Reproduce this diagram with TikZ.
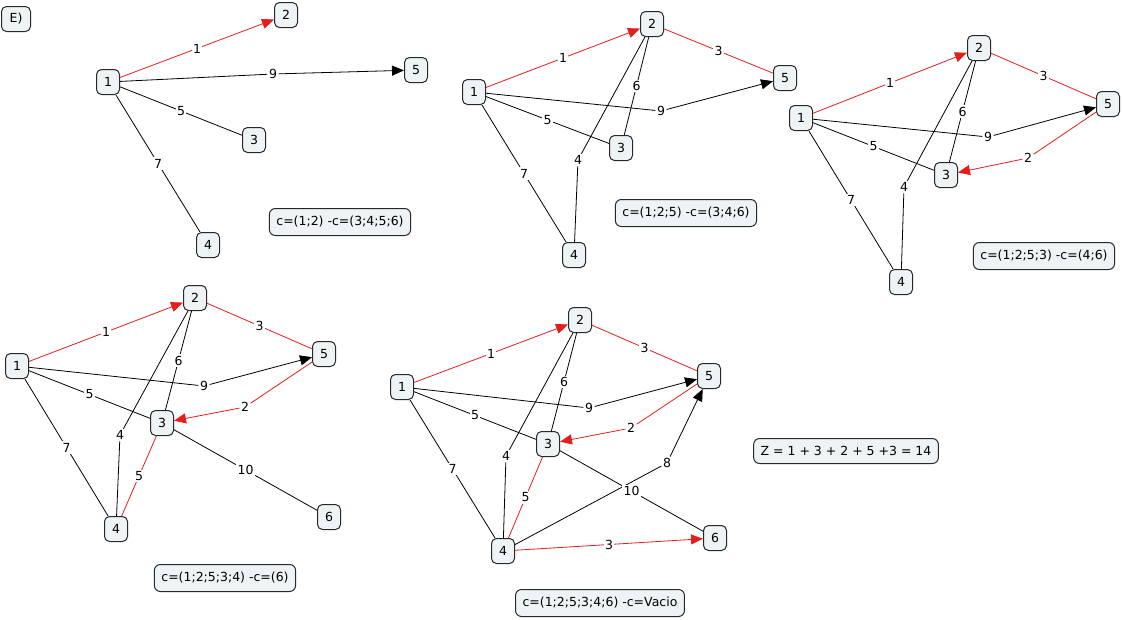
\documentclass[tikz,border=0pt]{standalone}
\usepackage{fontspec}
\setmainfont{DejaVu Sans}
\usepackage{xcolor}
\usepackage{tikz}
\usetikzlibrary{calc,arrows.meta}

\definecolor{boxfill}{RGB}{238,243,246}
\definecolor{boxline}{RGB}{40,40,40}
\definecolor{selred}{RGB}{228,30,30}

\begin{document}
\begin{tikzpicture}[x=1pt, y=-1pt,
    vx/.style={draw=boxline, line width=1pt, fill=boxfill, rounded corners=5pt,
        minimum width=23pt, minimum height=25pt, inner sep=0pt, font=\fontsize{12.5}{14}\selectfont},
    tag/.style={draw=boxline, line width=1pt, fill=boxfill, rounded corners=6pt,
        minimum height=27pt, inner xsep=7pt, font=\fontsize{12.5}{14}\selectfont},
    w/.style={fill=white, text=black, inner sep=1.5pt, font=\fontsize{12.5}{14}\selectfont},
    ed/.style={line width=0.8pt, black},
    sel/.style={line width=0.8pt, selred},
    tip/.style={-{Triangle[length=12pt,width=10pt]}}]
    \useasboundingbox (0,0) rectangle (1122,619);

    % Panel A
    \node[vx, minimum width=29pt] (title) at (16,19) {E)};
    \node[vx] (a1) at (108,82) {1};
    \node[vx] (a2) at (286,15) {2};
    \node[vx] (a5) at (416,70) {5};
    \node[vx] (a3) at (254,140) {3};
    \node[vx] (a4) at (208,245) {4};
    \draw[sel,tip] (a1) -- node[w] {1} (a2);
    \node[w] (a15) at (273,74) {9};
    \draw[ed,tip] (a1) -- (a15) -- (a5);
    \draw[ed] (a1) -- node[w] {5} (a3);
    \draw[ed] (a1) -- node[w] {7} (a4);
    \node[tag] (ta) at (340,222) {c=(1;2) -c=(3;4;5;6)};

    % Panel B
    \node[vx] (b1) at (474,92) {1};
    \node[vx] (b2) at (652,24) {2};
    \node[vx] (b5) at (785,78) {5};
    \node[vx] (b3) at (621,148) {3};
    \node[vx] (b4) at (574,255) {4};
    \draw[sel,tip] (b1) -- node[w] {1} (b2);
    \draw[sel] (b2) -- node[w] {3} (b5);
    \node[w] (b15) at (661,111) {9};
    \draw[ed,tip] (b1) -- (b15) -- (b5);
    \draw[ed] (b1) -- node[w] {5} (b3);
    \draw[ed] (b2) -- node[w] {6} (b3);
    \node[w] (b24) at (578,160) {4};
    \draw[ed] (b2) -- (b24) -- (b4);
    \draw[ed] (b1) -- node[w] {7} (b4);
    \node[tag] (tb) at (686,213) {c=(1;2;5) -c=(3;4;6)};

    % Panel C
    \node[vx] (c1) at (801,118) {1};
    \node[vx] (c2) at (979,48) {2};
    \node[vx] (c5) at (1108,104) {5};
    \node[vx] (c3) at (946,175) {3};
    \node[vx] (c4) at (901,282) {4};
    \draw[sel,tip] (c1) -- node[w] {1} (c2);
    \draw[sel] (c2) -- node[w] {3} (c5);
    \node[w] (c15) at (988,137) {9};
    \draw[ed,tip] (c1) -- (c15) -- (c5);
    \node[w] (c53) at (1028,158) {2};
    \draw[sel,tip] (c5) -- (c53) -- (c3);
    \draw[ed] (c1) -- node[w] {5} (c3);
    \draw[ed] (c2) -- node[w] {6} (c3);
    \node[w] (c24) at (904,187) {4};
    \draw[ed] (c2) -- (c24) -- (c4);
    \draw[ed] (c1) -- node[w] {7} (c4);
    \node[tag] (tc) at (1044,256) {c=(1;2;5;3) -c=(4;6)};

    % Panel D
    \node[vx] (d1) at (17,366) {1};
    \node[vx] (d2) at (195,298) {2};
    \node[vx] (d5) at (324,354) {5};
    \node[vx] (d3) at (162,423) {3};
    \node[vx] (d4) at (116,529) {4};
    \node[vx] (d6) at (329,517) {6};
    \draw[sel,tip] (d1) -- node[w] {1} (d2);
    \draw[sel] (d2) -- node[w] {3} (d5);
    \node[w] (d15) at (204,386) {9};
    \draw[ed,tip] (d1) -- (d15) -- (d5);
    \node[w] (d53) at (245,407) {2};
    \draw[sel,tip] (d5) -- (d53) -- (d3);
    \draw[ed] (d1) -- node[w] {5} (d3);
    \draw[ed] (d2) -- node[w] {6} (d3);
    \node[w] (d24) at (120,435) {4};
    \draw[ed] (d2) -- (d24) -- (d4);
    \draw[ed] (d1) -- node[w] {7} (d4);
    \draw[sel] (d3) -- node[w] {5} (d4);
    \draw[ed] (d3) -- node[w] {10} (d6);
    \node[tag] (td) at (225,578) {c=(1;2;5;3;4) -c=(6)};

    % Panel E
    \node[vx] (e1) at (402,387) {1};
    \node[vx] (e2) at (580,320) {2};
    \node[vx] (e5) at (709,376) {5};
    \node[vx] (e3) at (548,444) {3};
    \node[vx] (e4) at (503,551) {4};
    \node[vx] (e6) at (715,538) {6};
    \draw[sel,tip] (e1) -- node[w] {1} (e2);
    \draw[sel] (e2) -- node[w] {3} (e5);
    \node[w] (e15) at (589,408) {9};
    \draw[ed,tip] (e1) -- (e15) -- (e5);
    \node[w] (e53) at (631,428) {2};
    \draw[sel,tip] (e5) -- (e53) -- (e3);
    \draw[ed] (e1) -- node[w] {5} (e3);
    \draw[ed] (e2) -- node[w] {6} (e3);
    \node[w] (e24) at (506,456) {4};
    \draw[ed] (e2) -- (e24) -- (e4);
    \draw[ed] (e1) -- node[w] {7} (e4);
    \draw[sel] (e3) -- node[w] {5} (e4);
    \node[w] (e45) at (667,463) {8};
    \draw[ed,tip] (e4) -- (e45) -- (e5);
    \draw[ed] (e3) -- node[w] {10} (e6);
    \draw[sel,tip] (e4) -- node[w] {3} (e6);
    \node[tag] (te) at (600,603) {c=(1;2;5;3;4;6) -c=Vacio};

    \node[tag, minimum height=25pt] (z) at (846,451) {Z = 1 + 3 + 2 + 5 +3 = 14};
\end{tikzpicture}
\end{document}
